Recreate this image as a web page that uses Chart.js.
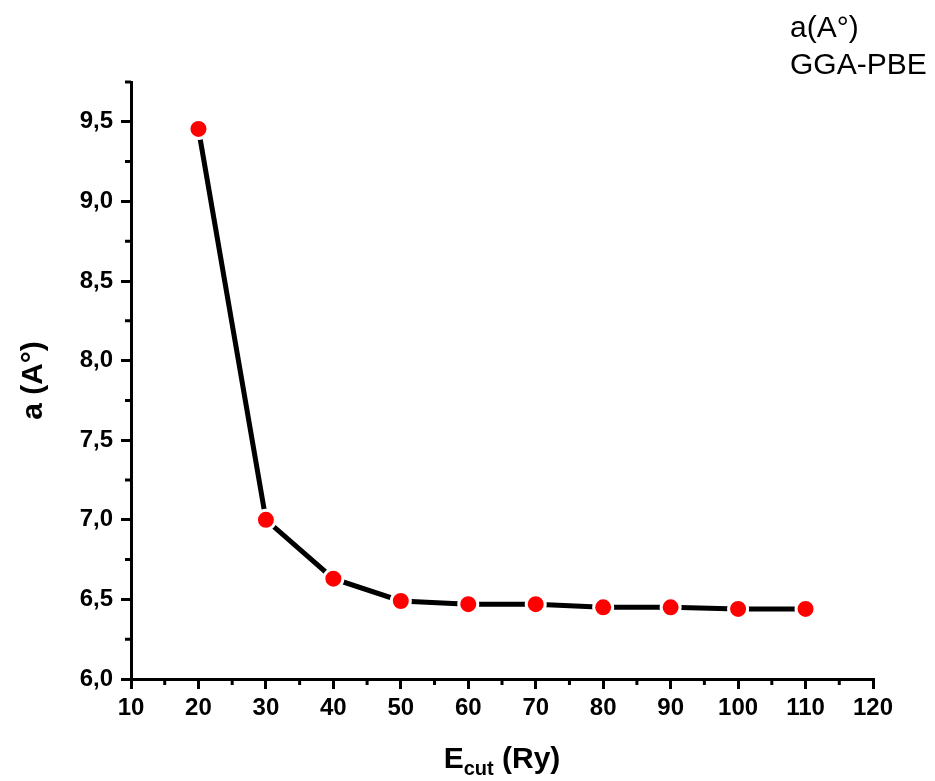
<!DOCTYPE html>
<html>
<head>
<meta charset="utf-8">
<script src="https://cdn.jsdelivr.net/npm/chart.js@4/dist/chart.umd.min.js"></script>
<style>
  html, body { margin: 0; padding: 0; background: #fff; }
  canvas { display: block; }
</style>
</head>
<body>
<canvas id="ecut" width="935" height="781"></canvas>
<script>
// cutoff energy convergence of the lattice parameter
const ecut = [20, 30, 40, 50, 60, 70, 80, 90, 100, 110];
const lattice = [9.455, 7.0, 6.63, 6.49, 6.47, 6.47, 6.45, 6.45, 6.44, 6.44];

const xTicks = [10, 20, 30, 40, 50, 60, 70, 80, 90, 100, 110, 120];
const yTicks = [6.0, 6.5, 7.0, 7.5, 8.0, 8.5, 9.0, 9.5];

const legendLines = ["a(A°)", "GGA-PBE"];

const FONT = "'Liberation Sans', Arial, sans-serif";

// minor ticks, axis titles and the text box top right
const extras = {
  id: "extras",
  afterDraw(chart) {
    const ctx = chart.ctx;
    const xs = chart.scales.x;
    const ys = chart.scales.y;
    const area = chart.chartArea;

    ctx.save();
    ctx.strokeStyle = "#000";
    ctx.lineWidth = 3;
    ctx.beginPath();
    for (let i = 0; i < xTicks.length - 1; i++) {
      const px = xs.getPixelForValue((xTicks[i] + xTicks[i + 1]) / 2);
      ctx.moveTo(px, area.bottom);
      ctx.lineTo(px, area.bottom + 6);
    }
    for (let i = 0; i < yTicks.length; i++) {
      const v = yTicks[i] + 0.25;
      if (v > ys.max) break;
      const py = ys.getPixelForValue(v);
      ctx.moveTo(area.left, py);
      ctx.lineTo(area.left - 6, py);
    }
    ctx.stroke();

    ctx.fillStyle = "#000";
    ctx.textBaseline = "alphabetic";

    // y title
    ctx.save();
    ctx.translate(42, (area.top + area.bottom) / 2);
    ctx.rotate(-Math.PI / 2);
    ctx.textAlign = "center";
    ctx.font = "bold 30px " + FONT;
    ctx.fillText("a (A°)", 0, 0);
    ctx.restore();

    // x title with subscript
    const big = "bold 30px " + FONT;
    const small = "bold 20px " + FONT;
    ctx.textAlign = "left";
    ctx.font = big;
    const wE = ctx.measureText("E").width;
    const wRy = ctx.measureText(" (Ry)").width;
    ctx.font = small;
    const wSub = ctx.measureText("cut").width;
    let x0 = (area.left + area.right) / 2 - (wE + wSub + wRy) / 2;
    const base = 768;
    ctx.font = big;
    ctx.fillText("E", x0, base);
    ctx.font = small;
    ctx.fillText("cut", x0 + wE, base + 7);
    ctx.font = big;
    ctx.fillText(" (Ry)", x0 + wE + wSub, base);

    // text box
    ctx.font = "30px " + FONT;
    ctx.fillText(legendLines[0], 790, 37);
    ctx.fillText(legendLines[1], 790, 74);
    ctx.restore();
  }
};

new Chart(document.getElementById("ecut"), {
  type: "line",
  data: {
    datasets: [
      {
        label: legendLines.join(" "),
        data: ecut.map((e, i) => ({ x: e, y: lattice[i] })),
        borderColor: "#000",
        borderWidth: 5,
        tension: 0,
        pointRadius: 9.5,
        pointBackgroundColor: "#ff0000",
        pointBorderColor: "#fff",
        pointBorderWidth: 3,
      },
    ],
  },
  options: {
    responsive: false,
    animation: false,
    layout: { padding: { top: 82, right: 62, left: 0, bottom: 0 } },
    plugins: {
      legend: { display: false },
      tooltip: { enabled: false },
    },
    scales: {
      x: {
        type: "linear",
        min: 10,
        max: 120,
        afterBuildTicks: (s) => { s.ticks = xTicks.map((v) => ({ value: v })); },
        afterFit: (s) => { s.height = 102; },
        border: { display: true, color: "#000", width: 3 },
        grid: {
          drawOnChartArea: false,
          drawTicks: true,
          tickLength: 10,
          tickColor: "#000",
          lineWidth: 3,
        },
        ticks: {
          color: "#000",
          padding: 5,
          maxRotation: 0,
          font: { family: FONT, size: 24, weight: "bold" },
        },
      },
      y: {
        min: 6,
        max: 9.75,
        afterBuildTicks: (s) => { s.ticks = yTicks.map((v) => ({ value: v })); },
        afterFit: (s) => { s.width = 131; },
        border: { display: true, color: "#000", width: 3 },
        grid: {
          drawOnChartArea: false,
          drawTicks: true,
          tickLength: 10,
          tickColor: "#000",
          lineWidth: 3,
        },
        ticks: {
          color: "#000",
          padding: 8,
          callback: (v) => v.toFixed(1).replace(".", ","),
          font: { family: FONT, size: 24, weight: "bold" },
        },
      },
    },
  },
  plugins: [extras],
});
</script>
</body>
</html>
